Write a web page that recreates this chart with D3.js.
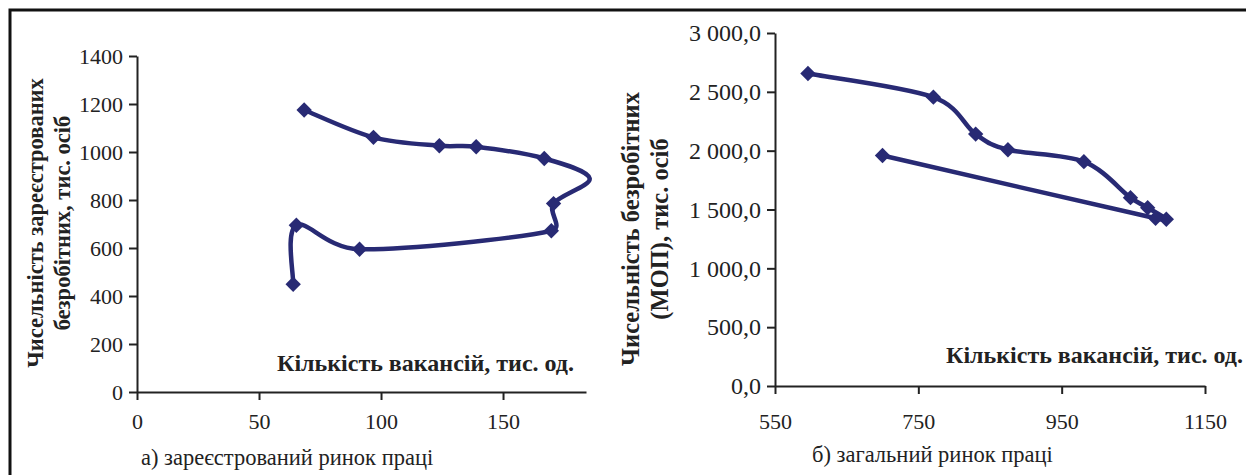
<!DOCTYPE html>
<html>
<head>
<meta charset="utf-8">
<script src="https://cdn.jsdelivr.net/npm/d3@7"></script>
<style>
  body { margin: 0; background: #fff; }
  text { font-family: "Liberation Serif", "Times New Roman", serif; fill: #222; }
</style>
</head>
<body>
<svg id="chart" width="1246" height="475"></svg>
<script>
// ---- а) registered labour market ----
const regVacancies = [68.5, 96.9, 123.9, 139, 166.9, 185.5, 170.7, 169.8, 91.2, 65.3, 64];
const regUnemployed = [1175, 1061, 1026, 1022, 973, 890, 785, 672, 595, 695, 449];
const regXTicks = [0, 50, 100, 150];
const regYTicks = [0, 200, 400, 600, 800, 1000, 1200, 1400];

// ---- б) total labour market (ILO) ----
const totVacancies = [596, 771, 830, 875, 981, 1046, 1070, 1096, 1081, 700];
const totUnemployed = [2655.8, 2455.0, 2140.7, 2008.0, 1906.7, 1600.8, 1515.0, 1417.6, 1425.1, 1958.8];
const totXTicks = [550, 750, 950, 1150];
const totYTicks = [0, 500, 1000, 1500, 2000, 2500, 3000];

const lineColor = "#282a74";
const svg = d3.select("#chart");

// frame (only top and left edges are visible in the scan)
svg.append("path")
  .attr("d", "M10,475V10H1246")
  .attr("fill", "none")
  .attr("stroke", "#111")
  .attr("stroke-width", 3);

const uaFormat = d3.formatLocale({ decimal: ",", thousands: " ", grouping: [3] }).format(",.1f");

// spreadsheet-style smoothing: cardinal bezier, but the handle length is
// capped at half the segment so short hops don't fly out
function smoothCapped(context) {
  let pts;
  return {
    areaStart() {}, areaEnd() {},
    lineStart() { pts = []; },
    point(x, y) { pts.push([+x, +y]); },
    lineEnd() {
      const n = pts.length;
      if (!n) return;
      context.moveTo(pts[0][0], pts[0][1]);
      const dist = (a, b) => Math.hypot(a[0] - b[0], a[1] - b[1]);
      for (let i = 0; i < n - 1; i++) {
        const p0 = pts[i - 1] || pts[i], p1 = pts[i], p2 = pts[i + 1], p3 = pts[i + 2] || pts[i + 1];
        const d12 = dist(p1, p2), d02 = dist(p0, p2), d13 = dist(p1, p3);
        const k1 = d02 > 0 ? Math.min(1 / 6, d12 / 2 / d02) : 0;
        const k2 = d13 > 0 ? Math.min(1 / 6, d12 / 2 / d13) : 0;
        context.bezierCurveTo(
          p1[0] + (p2[0] - p0[0]) * k1, p1[1] + (p2[1] - p0[1]) * k1,
          p2[0] - (p3[0] - p1[0]) * k2, p2[1] - (p3[1] - p1[1]) * k2,
          p2[0], p2[1]);
      }
    }
  };
}

function drawPanel(o) {
  const x = d3.scaleLinear().domain(o.xDomain).range(o.xRange);
  const y = d3.scaleLinear().domain(o.yDomain).range(o.yRange);
  const g = svg.append("g");

  // y axis
  const yAxis = g.append("g")
    .attr("transform", `translate(${o.xRange[0]},0)`)
    .call(d3.axisLeft(y).tickValues(o.yTicks).tickSize(8).tickSizeOuter(0).tickPadding(6)
      .tickFormat(o.yFormat || d3.format("d")));
  yAxis.selectAll(".tick text").attr("font-size", o.yTickSize);
  // x axis
  const xAxis = g.append("g")
    .attr("transform", `translate(0,${o.yRange[0]})`)
    .call(d3.axisBottom(x).tickValues(o.xTicks).tickSize(8).tickSizeOuter(0).tickPadding(o.xPad)
      .tickFormat(d3.format("d")));
  xAxis.selectAll(".tick text").attr("font-size", 22);

  [yAxis, xAxis].forEach(a => {
    a.select(".domain").attr("stroke", "#222").attr("stroke-width", 2);
    a.selectAll(".tick line").attr("stroke", "#222").attr("stroke-width", 2);
    a.selectAll(".tick text").attr("fill", "#222")
      .style("font-family", '"Liberation Serif", serif');
  });

  const pts = o.xs.map((v, i) => [v, o.ys[i]]);
  const line = d3.line()
    .x(d => x(d[0]))
    .y(d => y(d[1]))
    .curve(smoothCapped);

  g.append("path")
    .datum(pts)
    .attr("d", line)
    .attr("fill", "none")
    .attr("stroke", lineColor)
    .attr("stroke-width", 4.5)
    .attr("stroke-linejoin", "round");

  // markers only for points inside the plotted x range
  g.selectAll("path.marker")
    .data(pts.filter(d => d[0] <= o.xDomain[1]))
    .enter()
    .append("path")
    .attr("class", "marker")
    .attr("d", d3.symbol(d3.symbolSquare, 118))
    .attr("transform", d => `translate(${x(d[0])},${y(d[1])}) rotate(45)`)
    .attr("fill", lineColor);

  // y title, two rotated lines
  o.yTitle.forEach((t, i) => {
    g.append("text")
      .attr("transform", `translate(${o.yTitleX[i]},${o.yTitleY}) rotate(-90)`)
      .attr("text-anchor", "middle")
      .attr("font-size", o.yTitleSize)
      .attr("font-weight", "bold")
      .text(t);
  });

  // x title sits inside the plot
  g.append("text")
    .attr("x", o.xTitlePos[0])
    .attr("y", o.xTitlePos[1])
    .attr("text-anchor", "end")
    .attr("font-size", 24)
    .attr("font-weight", "bold")
    .text("Кількість вакансій, тис. од.");

  // caption
  g.append("text")
    .attr("x", o.captionPos[0])
    .attr("y", o.captionPos[1])
    .attr("font-size", 22.5)
    .text(o.caption);
}

drawPanel({
  xs: regVacancies, ys: regUnemployed,
  xDomain: [0, 184], xRange: [137, 586],
  yDomain: [0, 1400], yRange: [392, 56],
  xTicks: regXTicks, yTicks: regYTicks, xPad: 13, yTickSize: 22,
  yTitle: ["Чисельність зареєстрованих", "безробітних, тис. осіб"],
  yTitleX: [43, 70], yTitleY: 223, yTitleSize: 22.5,
  xTitlePos: [574, 371],
  caption: "а) зареєстрований ринок праці",
  captionPos: [141, 465]
});

drawPanel({
  xs: totVacancies, ys: totUnemployed,
  xDomain: [550, 1150], xRange: [775, 1205],
  yDomain: [0, 3000], yRange: [386, 33],
  xTicks: totXTicks, yTicks: totYTicks, xPad: 19, yTickSize: 24,
  yFormat: uaFormat,
  yTitle: ["Чисельність безробітних", "(МОП), тис. осіб"],
  yTitleX: [639, 668], yTitleY: 229, yTitleSize: 24.5,
  xTitlePos: [1243, 363],
  caption: "б) загальний ринок праці",
  captionPos: [812, 462]
});
</script>
</body>
</html>
